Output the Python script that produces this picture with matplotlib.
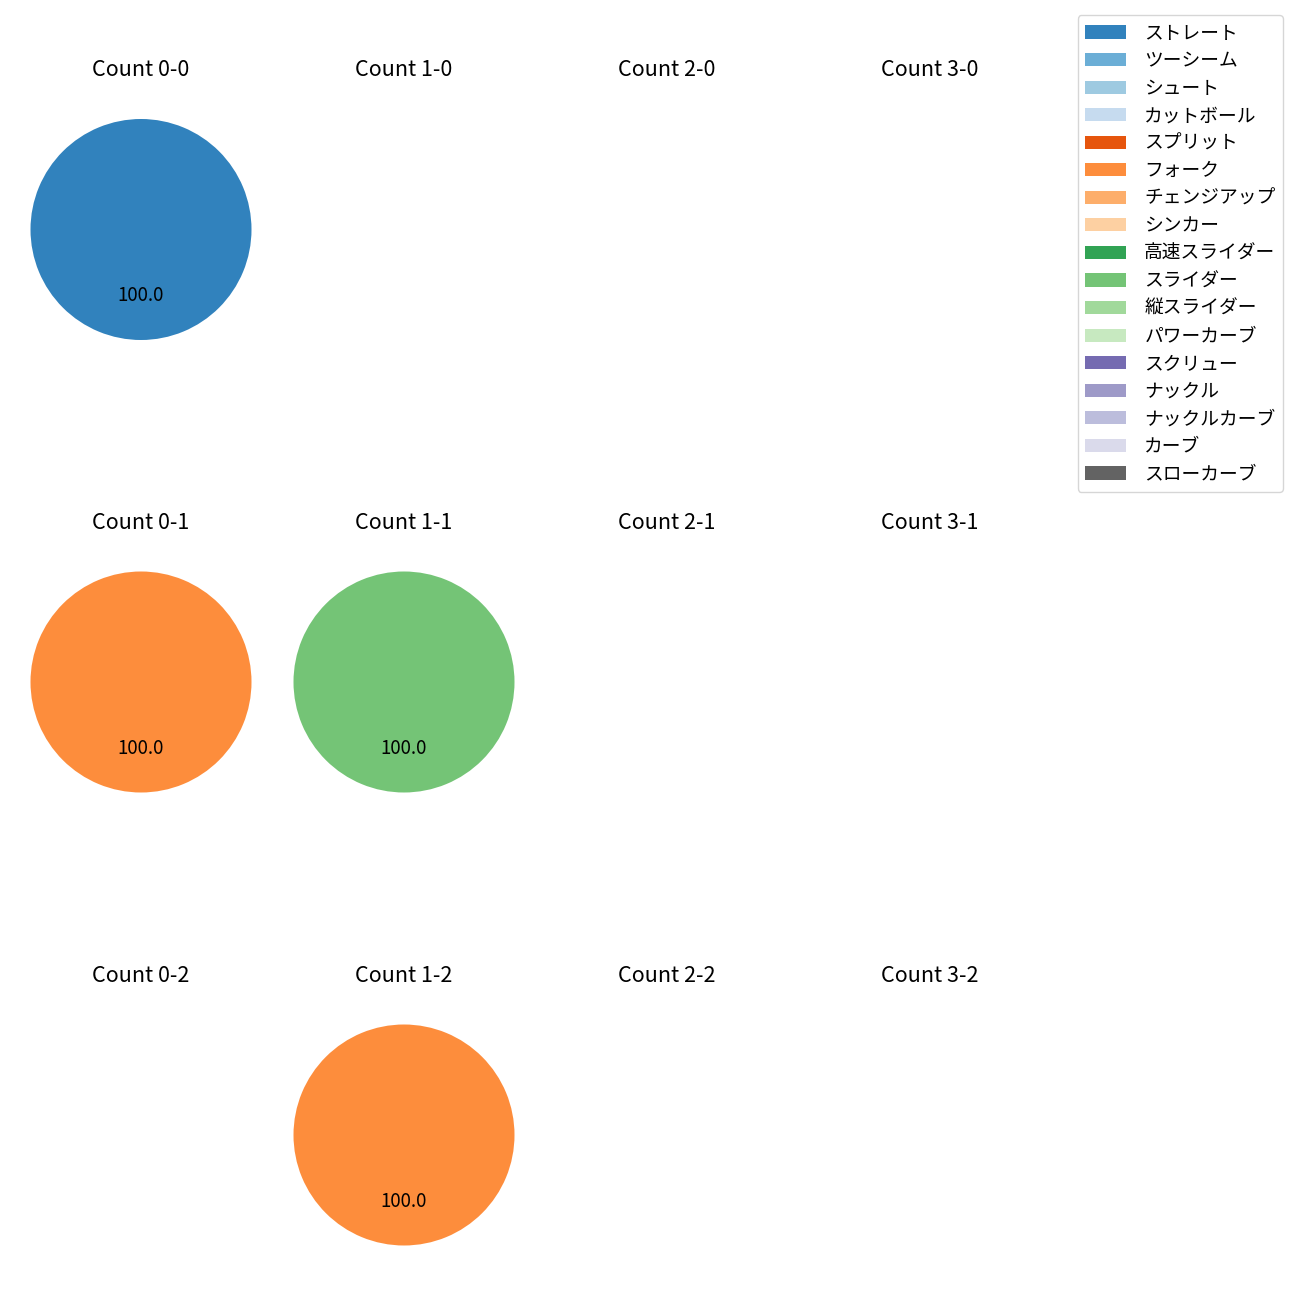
import matplotlib
matplotlib.use('Agg')
import matplotlib.pyplot as plt
from matplotlib.patches import Patch

plt.rcParams['font.family'] = ['Noto Sans CJK JP', 'DejaVu Sans']

pitch_types = ['ストレート', 'ツーシーム', 'シュート', 'カットボール', 'スプリット', 'フォーク',
               'チェンジアップ', 'シンカー', '高速スライダー', 'スライダー', '縦スライダー',
               'パワーカーブ', 'スクリュー', 'ナックル', 'ナックルカーブ', 'カーブ', 'スローカーブ']
colors = [plt.cm.tab20c(i) for i in range(len(pitch_types))]

balls = [0, 1, 2, 3]
strikes = [0, 1, 2]

# pitches thrown per count: (balls, strikes) -> {pitch type: count}
count_data = {
    (0, 0): {'ストレート': 1},
    (0, 1): {'フォーク': 1},
    (1, 1): {'スライダー': 1},
    (1, 2): {'フォーク': 1},
}

W, H = 1300, 1300
fig = plt.figure(figsize=(13, 13), dpi=100)

radius_px = 110.5
box_w = 276
box_h = 290
col_x = [141, 404, 667, 930]
row_y = [229.5, 682, 1135]

for s in strikes:
    for b in balls:
        cx, cy = col_x[b], row_y[s]
        ax = fig.add_axes([(cx - box_w / 2) / W, 1 - (cy + box_h / 2) / H, box_w / W, box_h / H])
        data = count_data.get((b, s), {})
        labels = [p for p in pitch_types if p in data]
        if labels:
            vals = [data[p] for p in labels]
            cols = [colors[pitch_types.index(p)] for p in labels]
            ax.pie(vals, colors=cols, autopct='%.1f', startangle=90, counterclock=False,
                   textprops={'fontsize': 13.5})
            ax.set_aspect('auto')
            ax.set_xlim(-box_w / 2 / radius_px, box_w / 2 / radius_px)
            ax.set_ylim(-box_h / 2 / radius_px, box_h / 2 / radius_px)
        ax.axis('off')
        ax.set_title(f'Count {b}-{s}', fontsize=15.5)

handles = [Patch(facecolor=c) for c in colors]
fig.legend(handles, pitch_types, loc='upper right', bbox_to_anchor=(1283 / W, 1 - 15 / H),
           borderaxespad=0, fontsize=13.5, labelspacing=0.35, handlelength=2.2,
           handletextpad=0.95)

fig.savefig('out.png', dpi=100)
